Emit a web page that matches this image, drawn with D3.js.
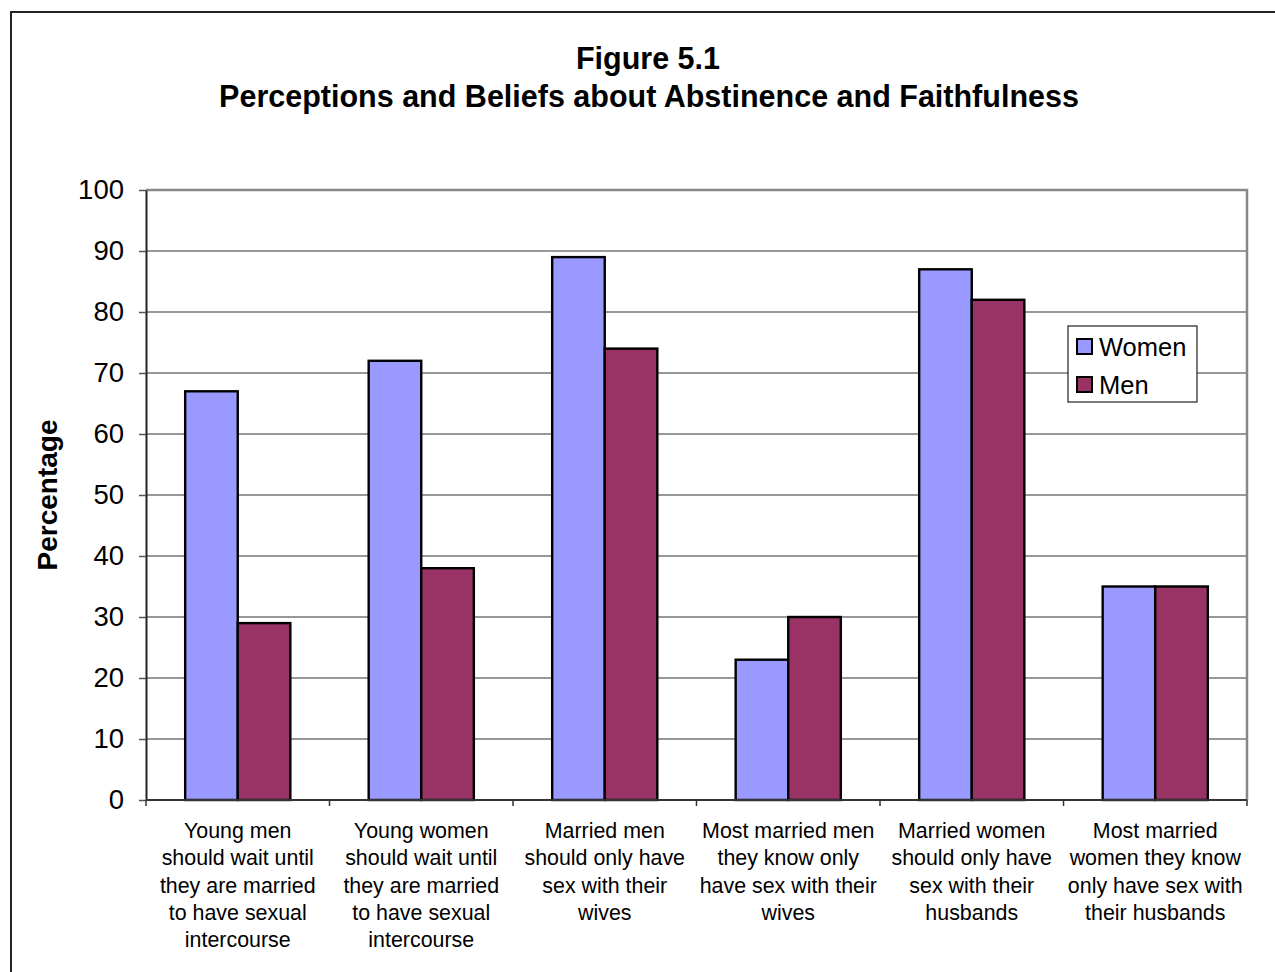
<!DOCTYPE html>
<html>
<head>
<meta charset="utf-8">
<script src="https://cdn.jsdelivr.net/npm/d3@7"></script>
<style>
  html, body { margin: 0; padding: 0; background: #fff; }
  svg { display: block; font-family: "Liberation Sans", Arial, sans-serif; }
</style>
</head>
<body>
<svg id="chart" width="1275" height="972"></svg>
<script>
// Survey categories (each label broken into its printed lines)
const categories = [
  ["Young men", "should wait until", "they are married", "to have sexual", "intercourse"],
  ["Young women", "should wait until", "they are married", "to have sexual", "intercourse"],
  ["Married men", "should only have", "sex with their", "wives"],
  ["Most married men", "they know only", "have sex with their", "wives"],
  ["Married women", "should only have", "sex with their", "husbands"],
  ["Most married", "women they know", "only have sex with", "their husbands"]
];
const seriesNames = ["Women", "Men"];
const womenValues = [67, 72, 89, 23, 87, 35];
const menValues = [29, 38, 74, 30, 82, 35];
const yTicks = [0, 10, 20, 30, 40, 50, 60, 70, 80, 90, 100];
const colors = ["#9999FF", "#993366"];

const svg = d3.select("#chart");

// Outer chart frame
svg.append("rect")
  .attr("x", 11).attr("y", 12)
  .attr("width", 1400).attr("height", 1100)
  .attr("fill", "#fff").attr("stroke", "#222").attr("stroke-width", 2);

// Title
const title = svg.append("text")
  .attr("x", 648).attr("text-anchor", "middle")
  .attr("font-weight", "bold").attr("font-size", 30.5).attr("fill", "#000");
title.append("tspan").attr("x", 648).attr("y", 69).text("Figure 5.1");
title.append("tspan").attr("x", 649).attr("y", 107).text("Perceptions and Beliefs about Abstinence and Faithfulness");

const plot = { left: 146, top: 190, right: 1247, bottom: 800 };

const x0 = d3.scaleBand()
  .domain(d3.range(categories.length))
  .range([plot.left, plot.right])
  .paddingInner(0).paddingOuter(0);

const x1 = d3.scaleBand()
  .domain(seriesNames)
  .range([0, x0.bandwidth()])
  .paddingInner(0).paddingOuter(0.745);

const y = d3.scaleLinear().domain([0, 100]).range([plot.bottom, plot.top]);

// Gridlines
svg.append("g")
  .selectAll("line")
  .data(yTicks.filter(t => t > 0 && t < 100))
  .join("line")
  .attr("x1", plot.left).attr("x2", plot.right)
  .attr("y1", d => y(d)).attr("y2", d => y(d))
  .attr("stroke", "#333").attr("stroke-width", 1.2);

// Plot area top / right border
svg.append("path")
  .attr("d", `M${plot.left},${plot.top}H${plot.right}V${plot.bottom}`)
  .attr("fill", "none").attr("stroke", "#888").attr("stroke-width", 2.5);

// Bars
const rows = categories.map((c, i) => ({ i, values: [womenValues[i], menValues[i]] }));
const groups = svg.append("g").selectAll("g")
  .data(rows)
  .join("g")
  .attr("transform", d => `translate(${x0(d.i)},0)`);

groups.selectAll("rect")
  .data(d => d.values.map((v, k) => ({ name: seriesNames[k], v, k })))
  .join("rect")
  .attr("x", d => x1(d.name))
  .attr("width", x1.bandwidth())
  .attr("y", d => y(d.v))
  .attr("height", d => y(0) - y(d.v))
  .attr("fill", d => colors[d.k])
  .attr("stroke", "#000").attr("stroke-width", 2.4);

// Y axis
const yAxis = svg.append("g")
  .attr("transform", `translate(${plot.left},0)`)
  .call(d3.axisLeft(y).tickValues(yTicks).tickSize(7).tickPadding(15).tickSizeOuter(0));
yAxis.select(".domain").attr("stroke", "#222").attr("stroke-width", 2);
yAxis.selectAll(".tick line").attr("stroke", "#555").attr("stroke-width", 1.5);
yAxis.selectAll(".tick text")
  .attr("font-size", 27.5).attr("fill", "#000")
  .attr("font-family", "Liberation Sans, Arial, sans-serif");

// X axis baseline with category separators
const xAxis = svg.append("g")
  .attr("transform", `translate(0,${plot.bottom})`);
xAxis.append("line")
  .attr("x1", plot.left).attr("x2", plot.right)
  .attr("stroke", "#333").attr("stroke-width", 2);
xAxis.selectAll("line.sep")
  .data(d3.range(categories.length + 1))
  .join("line").attr("class", "sep")
  .attr("x1", d => plot.left + d * x0.step())
  .attr("x2", d => plot.left + d * x0.step())
  .attr("y1", 0).attr("y2", 6)
  .attr("stroke", "#333").attr("stroke-width", 1.5);

// Category labels
const catLabels = svg.append("g").selectAll("text")
  .data(categories)
  .join("text")
  .attr("text-anchor", "middle")
  .attr("font-size", 21.4).attr("fill", "#000");
catLabels.each(function (lines, i) {
  const cx = x0(i) + x0.bandwidth() / 2;
  d3.select(this).selectAll("tspan")
    .data(lines)
    .join("tspan")
    .attr("x", cx)
    .attr("y", (d, j) => 838 + j * 27.3)
    .text(d => d);
});

// Y axis title
svg.append("text")
  .attr("transform", "translate(57,495) rotate(-90)")
  .attr("text-anchor", "middle")
  .attr("font-weight", "bold").attr("font-size", 28).attr("fill", "#000")
  .text("Percentage");

// Legend
const legend = svg.append("g").attr("transform", "translate(1068,326)");
legend.append("rect")
  .attr("width", 129).attr("height", 76)
  .attr("fill", "#fff").attr("stroke", "#222").attr("stroke-width", 1.2);
const items = legend.selectAll("g.item")
  .data(seriesNames)
  .join("g").attr("class", "item")
  .attr("transform", (d, i) => `translate(9,${13 + i * 38})`);
items.append("rect")
  .attr("width", 15).attr("height", 15)
  .attr("fill", (d, i) => colors[i])
  .attr("stroke", "#000").attr("stroke-width", 2);
items.append("text")
  .attr("x", 22).attr("y", 17)
  .attr("font-size", 25.5).attr("fill", "#000")
  .text(d => d);
</script>
</body>
</html>
